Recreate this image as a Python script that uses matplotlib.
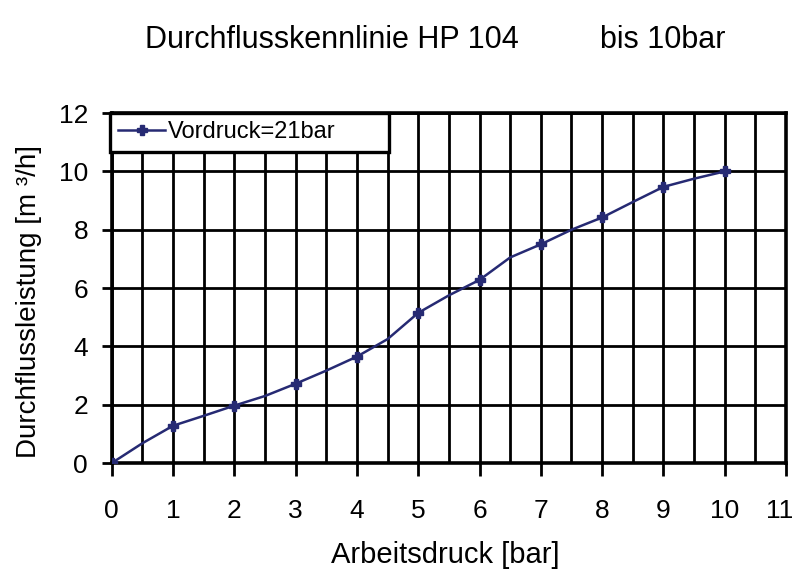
import numpy as np
import matplotlib
matplotlib.use("Agg")
import matplotlib.pyplot as plt
import matplotlib.transforms as mtransforms
from matplotlib.ticker import MultipleLocator

# values (markers only at whole bar)
druck = [0, 0.5, 1, 1.5, 2, 2.5, 3, 3.5, 4, 4.5, 5, 5.5, 6, 6.5, 7, 7.5, 8, 8.5, 9, 9.5, 10]
leistung = [0, 0.68, 1.28, 1.62, 1.97, 2.3, 2.72, 3.17, 3.65, 4.25, 5.15, 5.75,
            6.28, 7.05, 7.5, 8.0, 8.42, 8.95, 9.47, 9.75, 10.0]
serie = "Vordruck=21bar"
xticks = list(range(0, 12))

plt.rcParams['font.family'] = ['Liberation Sans', 'DejaVu Sans']

fig = plt.figure(figsize=(7.98, 5.71), dpi=100)
ax = fig.add_axes([0.140, 0.189, 0.845, 0.613])

navy = '#262a73'
ax.plot(druck, leistung, color=navy, lw=1.8, marker='P', ms=7,
        markevery=2, label=serie, zorder=3)

ax.set_xlim(0, 11)
ax.set_ylim(0, 12)
ax.set_xticks(xticks)
ax.xaxis.set_minor_locator(MultipleLocator(0.5))
ax.yaxis.set_major_locator(MultipleLocator(2))
ax.grid(which='both', axis='x', color='black', lw=2)
ax.grid(which='major', axis='y', color='black', lw=2)
ax.set_axisbelow(True)
for s in ax.spines.values():
    s.set_linewidth(2.6)
    s.set_color('black')

ax.tick_params(axis='x', which='major', direction='out', length=9, width=2,
               pad=17, labelsize=19)
ax.tick_params(axis='x', which='minor', length=0)
ax.tick_params(axis='y', direction='out', length=7, width=2, pad=10, labelsize=19)

# last label sits at the very edge, nudge it left a little
lab = ax.get_xticklabels()[-1]
lab.set_transform(lab.get_transform() +
                  mtransforms.ScaledTranslation(-0.06, 0, fig.dpi_scale_trans))

# axis titles placed in figure pixels like the reference
fig.text(445 / 798, 1 - 555 / 571, 'Arbeitsdruck [bar]', fontsize=21,
         ha='center', va='center')
fig.text(29 / 798, 1 - 301 / 571, 'Durchflussleistung [m ³/h]', fontsize=20,
         ha='center', va='center', rotation=90)

fig.text(145 / 798, 1 - 40 / 571, 'Durchflusskennlinie HP 104', fontsize=22,
         ha='left', va='center')
fig.text(600 / 798, 1 - 40 / 571, 'bis 10bar', fontsize=22, ha='left', va='center')

leg = ax.legend(loc='upper left', bbox_to_anchor=(-0.003, 0, 0.414, 1.0),
                mode='expand', borderaxespad=0, fontsize=17, fancybox=False,
                handlelength=2.0, handletextpad=0.1, borderpad=0.35)
leg.get_frame().set_edgecolor('black')
leg.get_frame().set_linewidth(2.4)
leg.get_frame().set_alpha(1)

fig.savefig('out.png', dpi=100)
